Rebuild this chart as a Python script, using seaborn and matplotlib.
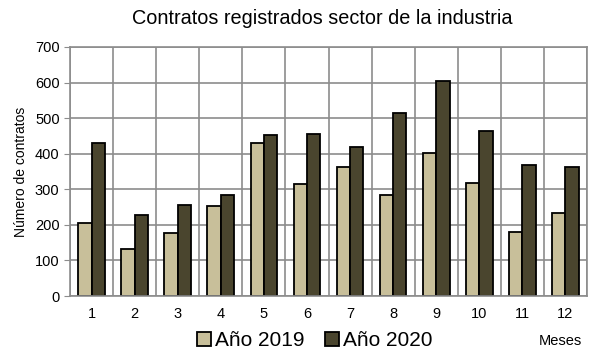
import matplotlib
matplotlib.use("Agg")
import matplotlib.pyplot as plt
import seaborn as sns
import pandas as pd
from matplotlib.ticker import MultipleLocator, FixedLocator

months = [str(m) for m in range(1, 13)]
contratos_2019 = [206, 131, 176, 253, 431, 314, 363, 283, 401, 318, 180, 234]
contratos_2020 = [431, 227, 257, 284, 454, 456, 419, 515, 605, 464, 368, 362]
series_names = ["Año 2019", "Año 2020"]
colors = ["#C8BF9A", "#4A452E"]

df = pd.DataFrame({
    "Mes": months * 2,
    "Contratos": contratos_2019 + contratos_2020,
    "Serie": [series_names[0]] * 12 + [series_names[1]] * 12,
})

sns.set_style("white")
plt.rcParams["font.family"] = ["Liberation Sans", "DejaVu Sans"]
plt.rcParams["text.color"] = "black"
plt.rcParams["axes.labelcolor"] = "black"

fig = plt.figure(figsize=(5.89, 3.54), dpi=100)
ax = fig.add_axes([70 / 589, 1 - 296 / 354, 517 / 589, 249 / 354])

sns.barplot(data=df, x="Mes", y="Contratos", hue="Serie", order=months,
            hue_order=series_names, palette=colors, width=0.62,
            edgecolor="black", linewidth=1.3, saturation=1, ax=ax)

ax.set_ylim(0, 700)
ax.set_xlim(-0.5, 11.5)
ax.yaxis.set_major_locator(MultipleLocator(100))
ax.xaxis.set_minor_locator(FixedLocator([i + 0.5 for i in range(-1, 12)]))
ax.set_axisbelow(True)
ax.grid(axis="y", which="major", color="#8c8c8c", linewidth=1.2)
ax.grid(axis="x", which="minor", color="#8c8c8c", linewidth=1.2)
ax.grid(axis="x", which="major", visible=False)
for s in ax.spines.values():
    s.set_color("#8c8c8c")
    s.set_linewidth(1.2)

ax.tick_params(axis="x", which="major", length=0, labelsize=10.5, pad=8,
               labelcolor="black")
ax.tick_params(axis="x", which="minor", length=4, color="#8c8c8c")
ax.tick_params(axis="y", length=4, color="#8c8c8c", labelsize=10.5, left=True,
               labelcolor="black")
ax.set_xlabel("")
ax.set_ylabel("Número de contratos", fontsize=10, labelpad=5, color="black")
fig.text(322 / 589, 1 - 19 / 354, "Contratos registrados sector de la industria",
         ha="center", va="center", fontsize=14.3, color="black")

handles, labels = ax.get_legend_handles_labels()
ax.legend_.remove()
fig.legend(handles, labels, loc="center", bbox_to_anchor=(315 / 589, 1 - 341 / 354),
           ncol=2, frameon=False, fontsize=15, handlelength=0.65, handleheight=0.65,
           handletextpad=0.2, columnspacing=1.0, borderaxespad=0, labelcolor="black")
fig.text(560 / 589, 1 - 341 / 354, "Meses", ha="center", va="center", fontsize=10.5,
         color="black")

fig.savefig("out.png", dpi=100)
